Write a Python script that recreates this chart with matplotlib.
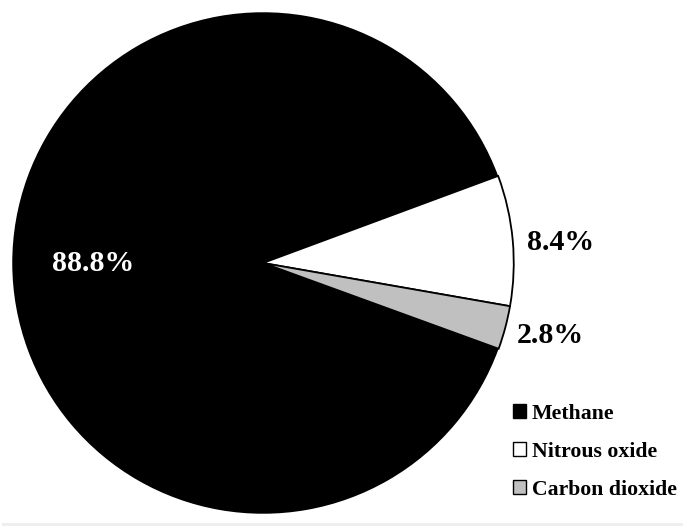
import matplotlib
matplotlib.use("Agg")
import matplotlib.pyplot as plt
from matplotlib.patches import Patch
from matplotlib.lines import Line2D

categories = ["Methane", "Nitrous oxide", "Carbon dioxide"]
values = [88.8, 8.4, 2.8]
labels = ["88.8%", "8.4%", "2.8%"]
colors = ["#000000", "#ffffff", "#c0c0c0"]

plt.rcParams['font.family'] = ['Liberation Serif', 'DejaVu Serif']

W, H = 684, 527
fig = plt.figure(figsize=(W / 100, H / 100), dpi=100)
cx, cy, r = 263, 263, 252
ax = fig.add_axes([(cx - r) / W, (H - cy - r) / H, 2 * r / W, 2 * r / H])
wedges, _ = ax.pie(values, colors=colors, startangle=-20, counterclock=False,
                   radius=1.0, wedgeprops=dict(edgecolor='black', linewidth=1.3))
wedges[0].set_linewidth(0)
ax.set_xlim(-1.005, 1.005)
ax.set_ylim(-1.005, 1.005)
ax.set_aspect('equal')
ax.axis('off')

def px(x, y):
    return ((x - cx) / r, (cy - y) / r)

ax.text(*px(92, 264), labels[0], color='white', fontsize=21.5, fontweight='bold',
        ha='center', va='center')
ax.text(*px(562, 242), labels[1], color='black', fontsize=21.5, fontweight='bold',
        ha='center', va='center', clip_on=False)
ax.text(*px(552, 336), labels[2], color='black', fontsize=21.5, fontweight='bold',
        ha='center', va='center', clip_on=False)

handles = [Patch(facecolor=c, edgecolor='black', linewidth=1.0) for c in colors]
leg = fig.legend(handles, categories, loc='upper left',
                 bbox_to_anchor=(513 / W, 1 - 404 / H), frameon=False,
                 prop=dict(size=15.7, weight='bold'), handlelength=0.6,
                 handleheight=0.6, handletextpad=0.25, labelspacing=0.82,
                 borderpad=0, borderaxespad=0)

fig.add_artist(Line2D([3 / W, 681 / W], [1 - 523.5 / H, 1 - 523.5 / H],
                      color='#eeeeee', linewidth=2))

fig.savefig("out.png", dpi=100)
